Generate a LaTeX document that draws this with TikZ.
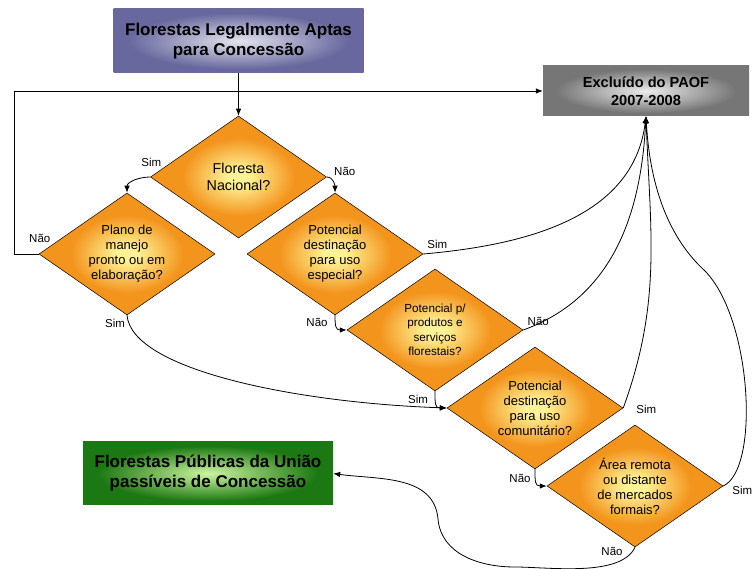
\documentclass[tikz,border=0pt]{standalone}
\usepackage{fontspec}
\setmainfont{Liberation Sans}
\usepackage{tikz}
\usetikzlibrary{shapes.geometric}
\usetikzlibrary{arrows.meta}
\definecolor{orangeout}{RGB}{243,148,28}
\definecolor{yellowin}{RGB}{255,242,150}
\definecolor{purpleout}{RGB}{104,104,158}
\definecolor{purplein}{RGB}{228,228,238}
\definecolor{grayout}{RGB}{118,118,118}
\definecolor{grayin}{RGB}{236,236,236}
\definecolor{greenout}{RGB}{28,120,18}
\definecolor{greenin}{RGB}{205,245,160}
\pgfdeclareradialshading{questionshade}{\pgfpoint{0bp}{0bp}}{color(0bp)=(yellowin); color(3bp)=(yellowin); color(16bp)=(orangeout); color(50bp)=(orangeout)}
\pgfdeclareradialshading{purpleshade}{\pgfpoint{0bp}{0bp}}{color(0bp)=(purplein); color(22bp)=(purpleout); color(50bp)=(purpleout)}
\pgfdeclareradialshading{grayshade}{\pgfpoint{0bp}{0bp}}{color(0bp)=(grayin); color(22bp)=(grayout); color(50bp)=(grayout)}
\pgfdeclareradialshading{greenshade}{\pgfpoint{0bp}{0bp}}{color(0bp)=(greenin); color(22bp)=(greenout); color(50bp)=(greenout)}
\def\thickness{0.8pt}
\tikzstyle{question}=[diamond, draw=black, line width=0.5pt, shading=questionshade, aspect=1.44, minimum width=176pt, minimum height=122pt, inner sep=0pt, align=center, font=\fontsize{13}{15}\selectfont]
\tikzstyle{box}=[rectangle, minimum width=250pt, minimum height=64pt, inner sep=0pt, align=center, font=\bfseries\fontsize{17}{20}\selectfont]
\tikzstyle{lbl}=[font=\fontsize{11.5}{13}\selectfont, inner sep=0pt]
\tikzstyle{flow}=[line width=\thickness, -{Latex[length=7pt,width=5.5pt]}]

\begin{document}
\begin{tikzpicture}[x=1pt, y=1pt]
\useasboundingbox (0,0) rectangle (754,569);
\node [box, shading=purpleshade] (aptas) at (238.5,528) {Florestas Legalmente Aptas\\para Concessão};
\node [box, shading=grayshade, minimum width=206pt, minimum height=50pt, font=\bfseries\fontsize{14.6}{18}\selectfont] (excl) at (646,478) {Excluído do PAOF\\2007-2008};
\node [box, shading=greenshade, minimum height=63pt] (passiveis) at (208,95.5) {Florestas Públicas da União\\passíveis de Concessão};
\node [question, font=\fontsize{14.3}{16.5}\selectfont] (nacional) at (238.5,392) {Floresta\\Nacional?};
\node [question] (plano) at (127,315) {Plano de\\manejo\\pronto ou em\\elaboração?};
\node [question] (especial) at (335,315) {Potencial\\destinação\\para uso\\especial?};
\node [question, font=\fontsize{11.7}{14.5}\selectfont] (produtos) at (435,239) {Potencial p/\\produtos e\\serviços\\florestais?};
\node [question] (comunit) at (535,161) {Potencial\\destinação\\para uso\\comunitário?};
\node [question] (remota) at (635,83) {Área remota\\ou distante\\de mercados\\formais?};

\draw [flow] (aptas.south) -- (nacional.north);
\draw [flow] (nacional.west) node [lbl, xshift=1pt, yshift=15pt] {Sim} to [out=180, in=90] (plano.north);
\draw [flow] (nacional.east) node [lbl, xshift=18pt, yshift=6pt] {Não} to [out=0, in=90] (especial.north);
\draw [flow] (plano.west) node [lbl, xshift=1pt, yshift=16pt] {Não} -- ++(-24,0) |- (excl.west);
\draw [flow] (plano.south) node [lbl, xshift=-12pt, yshift=-8pt] {Sim} to [out=-85, in=178, out distance=55pt, in distance=150pt] (comunit.west);
\draw [flow] (especial.east) node [lbl, xshift=14pt, yshift=10pt] {Sim} to [out=5, in=-97] (excl.south);
\draw [flow] (especial.south) node [lbl, xshift=-18pt, yshift=-7pt] {Não} to [out=-90, in=180, looseness=1.5] (produtos.west);
\draw [flow] (produtos.east) node [lbl, xshift=15pt, yshift=9pt] {Não} to [out=20, in=-93] (excl.south);
\draw [flow] (produtos.south) node [lbl, xshift=-17pt, yshift=-8pt] {Sim} to [out=-90, in=180, looseness=1.5] (comunit.west);
\draw [flow] (comunit.east) node [lbl, xshift=23pt, yshift=-1pt] {Sim} to [out=70, in=-88] (excl.south);
\draw [flow] (comunit.south) node [lbl, xshift=-15pt, yshift=-9pt] {Não} to [out=-90, in=180, looseness=1.5] (remota.west);
\draw [flow] (remota.east) node [lbl, xshift=19pt, yshift=-4pt] {Sim} .. controls (760,100) and (752,250) .. (705,298) .. controls (670,330) and (650,380) .. (excl.south);
\draw [flow] (remota.south) node [lbl, xshift=-23pt, yshift=-4pt] {Não} to [out=-115, in=0, looseness=0.7] (515,2) to [out=180, in=-85] (438,50) to [out=95, in=-8] (passiveis.east);
\end{tikzpicture}
\end{document}
